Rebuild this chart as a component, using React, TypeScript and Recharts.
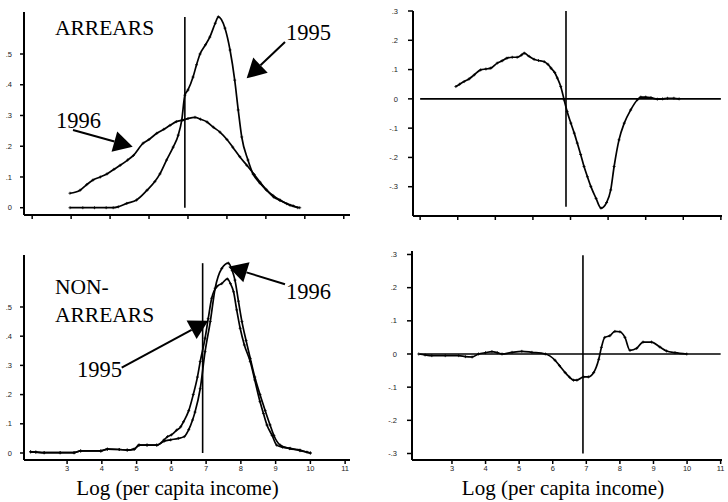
import React from 'react';
import { LineChart, Line, XAxis, YAxis, ReferenceLine } from 'recharts';

// log(per capita income) tick positions shared by every panel
const xTicks = [3, 4, 5, 6, 7, 8, 9, 10, 11];
const densTicks = [0, 0.1, 0.2, 0.3, 0.4, 0.5];
const diffTicks = [-0.3, -0.2, -0.1, 0, 0.1, 0.2, 0.3];

// ARREARS densities
const arrears1995: [number, number][] = [
  [3.97, 0], [4.3, 0], [4.6, 0], [4.9, 0], [5.08, 0], [5.21, 0.003], [5.43, 0.014], [5.68, 0.025],
  [5.95, 0.057], [6.15, 0.085], [6.28, 0.11], [6.45, 0.155], [6.62, 0.197], [6.75, 0.236], [6.84, 0.285],
  [6.92, 0.366], [7.0, 0.383], [7.13, 0.425], [7.22, 0.465], [7.31, 0.5], [7.45, 0.53], [7.56, 0.555],
  [7.7, 0.6], [7.78, 0.621], [7.95, 0.584], [8.08, 0.513], [8.2, 0.415], [8.29, 0.318], [8.38, 0.23],
  [8.54, 0.155], [8.67, 0.11], [8.85, 0.08], [9.02, 0.057], [9.2, 0.035], [9.36, 0.024], [9.62, 0.008], [9.87, 0],
];
const arrears1996: [number, number][] = [
  [3.97, 0.047], [4.23, 0.057], [4.4, 0.075], [4.56, 0.09], [4.75, 0.1], [4.92, 0.11], [5.1, 0.125],
  [5.26, 0.138], [5.45, 0.155], [5.6, 0.17], [5.85, 0.21], [6.0, 0.222], [6.2, 0.242], [6.38, 0.255],
  [6.54, 0.268], [6.7, 0.28], [6.87, 0.285], [7.0, 0.29], [7.18, 0.294], [7.32, 0.288], [7.49, 0.279],
  [7.65, 0.262], [7.82, 0.246], [8.0, 0.222], [8.15, 0.197], [8.33, 0.166], [8.51, 0.138], [8.7, 0.108],
  [8.85, 0.083], [9.0, 0.06], [9.18, 0.04], [9.36, 0.025], [9.54, 0.013], [9.7, 0.006], [9.82, 0],
];
const arrearsDiff: [number, number][] = [
  [3.95, 0.042], [4.05, 0.05], [4.17, 0.059], [4.3, 0.068], [4.44, 0.082], [4.61, 0.099], [4.75, 0.102],
  [4.88, 0.105], [5.05, 0.122], [5.18, 0.13], [5.31, 0.139], [5.45, 0.142], [5.58, 0.142], [5.7, 0.15],
  [5.77, 0.156], [5.9, 0.145], [6.03, 0.135], [6.15, 0.131], [6.3, 0.127], [6.4, 0.118], [6.48, 0.105],
  [6.58, 0.09], [6.65, 0.071], [6.74, 0.042], [6.83, -0.003], [6.91, -0.043], [7.01, -0.083], [7.1, -0.117],
  [7.18, -0.151], [7.27, -0.19], [7.36, -0.231], [7.45, -0.266], [7.54, -0.299], [7.68, -0.34], [7.81, -0.373],
  [7.96, -0.354], [8.07, -0.311], [8.16, -0.231], [8.29, -0.14], [8.43, -0.083], [8.6, -0.038], [8.78, -0.003],
  [8.87, 0.006], [9.0, 0.006], [9.14, 0.004], [9.31, -0.001], [9.45, 0], [9.58, 0.002], [9.75, 0.002], [9.89, 0],
];

// NON-ARREARS densities
const non1995: [number, number][] = [
  [1.95, 0.004], [2.1, 0.003], [2.34, 0.001], [2.8, 0.001], [3.2, 0.001], [3.39, 0.007], [3.97, 0.007],
  [4.16, 0.013], [4.5, 0.012], [4.73, 0.01], [4.93, 0.013], [5.07, 0.027], [5.3, 0.027], [5.58, 0.027],
  [5.79, 0.045], [5.89, 0.056], [6.0, 0.062], [6.15, 0.078], [6.27, 0.09], [6.35, 0.107], [6.5, 0.145],
  [6.63, 0.2], [6.75, 0.26], [6.83, 0.313], [6.97, 0.393], [7.06, 0.46], [7.16, 0.53], [7.31, 0.57],
  [7.45, 0.58], [7.61, 0.596], [7.7, 0.58], [7.79, 0.552], [7.88, 0.49], [7.98, 0.427], [8.1, 0.37],
  [8.27, 0.313], [8.4, 0.25], [8.55, 0.176], [8.65, 0.135], [8.75, 0.096], [8.9, 0.06], [9.03, 0.027],
  [9.2, 0.02], [9.42, 0.016], [9.7, 0.008], [10.0, 0],
];
const non1996: [number, number][] = [
  [1.95, 0.004], [2.1, 0.003], [2.34, 0.001], [2.8, 0.001], [3.2, 0.001], [3.39, 0.007], [3.97, 0.007],
  [4.16, 0.013], [4.5, 0.012], [4.73, 0.01], [4.93, 0.013], [5.07, 0.027], [5.3, 0.027], [5.58, 0.027],
  [5.79, 0.04], [5.98, 0.045], [6.2, 0.05], [6.37, 0.056], [6.5, 0.08], [6.61, 0.113], [6.68, 0.14],
  [6.83, 0.22], [6.97, 0.347], [7.12, 0.45], [7.26, 0.564], [7.45, 0.632], [7.64, 0.65], [7.75, 0.625],
  [7.83, 0.592], [7.93, 0.52], [8.03, 0.45], [8.15, 0.385], [8.27, 0.324], [8.4, 0.26], [8.55, 0.2],
  [8.7, 0.145], [8.84, 0.096], [8.95, 0.06], [9.13, 0.027], [9.4, 0.015], [9.7, 0.01], [9.9, 0.003], [10.0, 0],
];
const nonDiff: [number, number][] = [
  [2.01, 0], [2.2, -0.003], [2.4, -0.005], [2.8, -0.005], [3.2, -0.005], [3.4, -0.008], [3.6, -0.009],
  [3.79, 0], [4.0, 0.004], [4.19, 0.007], [4.35, 0.004], [4.49, 0], [4.79, 0.005], [5.08, 0.008],
  [5.38, 0.005], [5.78, 0], [6.07, -0.019], [6.2, -0.035], [6.37, -0.056], [6.5, -0.07], [6.62, -0.079],
  [6.72, -0.079], [6.92, -0.069], [7.06, -0.069], [7.22, -0.056], [7.37, -0.016], [7.45, 0.02], [7.55, 0.05],
  [7.7, 0.055], [7.85, 0.068], [8.0, 0.067], [8.15, 0.05], [8.3, 0.011], [8.5, 0.017], [8.69, 0.036],
  [8.94, 0.036], [9.19, 0.021], [9.39, 0.009], [9.64, 0.004], [9.99, 0],
];

const pts = (a: [number, number][]) => a.map(([x, y]) => ({ x, y }));

const fmt = (v: number) => {
  if (Math.abs(v) < 1e-9) return '0';
  return (v < 0 ? '-' : '') + '.' + Math.round(Math.abs(v) * 10);
};

const sans = '"Liberation Sans", Arial, sans-serif';
const serif = '"Liberation Serif", "Times New Roman", serif';
const tickFont = { fontFamily: sans, fontSize: 7.5, fill: '#222' };

const Plus = (p: any) => {
  const { cx, cy } = p;
  if (cx == null || cy == null) return <g />;
  return <path d={`M${cx - 1.5},${cy}h3M${cx},${cy - 1.5}v3`} stroke="#000" strokeWidth={0.8} />;
};

type PanelProps = {
  left: number; top: number; width: number; height: number;
  margin: { top: number; right: number; bottom: number; left: number };
  yWidth: number; yTickSize: number; yTickMargin: number;
  xDomain: [number, number]; yDomain: [number, number];
  yTicks: number[]; showX: boolean;
  series: [number, number][][];
  children?: React.ReactNode;
};

function Panel(p: PanelProps) {
  return (
    <div style={{ position: 'absolute', left: p.left, top: p.top }}>
      <LineChart width={p.width} height={p.height} margin={p.margin}>
        <XAxis
          dataKey="x" type="number" domain={p.xDomain} ticks={xTicks} allowDataOverflow
          height={20} tickSize={4} tickMargin={2}
          axisLine={{ stroke: '#000', strokeWidth: 2 }}
          tickLine={{ stroke: '#000', strokeWidth: 1.5 }}
          tick={tickFont} tickFormatter={(v: number) => (p.showX ? String(v) : '')}
        />
        <YAxis
          type="number" domain={p.yDomain} ticks={p.yTicks} allowDataOverflow
          width={p.yWidth} tickSize={p.yTickSize} tickMargin={p.yTickMargin}
          axisLine={{ stroke: '#000', strokeWidth: 2 }}
          tickLine={{ stroke: '#000', strokeWidth: 1.5 }}
          tick={tickFont} tickFormatter={fmt}
        />
        {p.children}
        {p.series.map((s, i) => (
          <Line
            key={i} data={pts(s)} dataKey="y" type="monotone" stroke="#000" strokeWidth={1.7}
            dot={Plus} activeDot={false} isAnimationActive={false}
          />
        ))}
      </LineChart>
    </div>
  );
}

function Arrow({ from, to }: { from: [number, number]; to: [number, number] }) {
  const dx = to[0] - from[0];
  const dy = to[1] - from[1];
  const len = Math.hypot(dx, dy);
  const ux = dx / len, uy = dy / len;
  const L = 19, W = 10.5;
  const bx = to[0] - ux * L, by = to[1] - uy * L;
  const poly = `${to[0]},${to[1]} ${bx - uy * W},${by + ux * W} ${bx + uy * W},${by - ux * W}`;
  return (
    <g>
      <line x1={from[0]} y1={from[1]} x2={bx} y2={by} stroke="#000" strokeWidth={2} />
      <polygon points={poly} fill="#000" />
    </g>
  );
}

export default function App() {
  const refStyle = { stroke: '#000', strokeWidth: 1.6 };
  return (
    <div style={{ position: 'absolute', left: 0, top: 0, width: 728, height: 502, background: '#fff', overflow: 'hidden' }}>
      <Panel
        left={0} top={0} width={360} height={250}
        margin={{ top: 12, right: 10, bottom: 15, left: 0 }}
        yWidth={24} yTickSize={4} yTickMargin={8}
        xDomain={[2.79, 11.16]} yDomain={[-0.0237, 0.6366]} yTicks={densTicks} showX={false}
        series={[arrears1995, arrears1996]}
      >
        <ReferenceLine segment={[{ x: 6.92, y: 0 }, { x: 6.92, y: 0.62 }]} {...refStyle} />
      </Panel>
      <Panel
        left={364} top={0} width={364} height={250}
        margin={{ top: 11, right: 6, bottom: 14, left: 0 }}
        yWidth={49} yTickSize={5} yTickMargin={10}
        xDomain={[2.81, 11.03]} yDomain={[-0.4, 0.3]} yTicks={diffTicks} showX={false}
        series={[arrearsDiff]}
      >
        <ReferenceLine segment={[{ x: 3, y: 0 }, { x: 11, y: 0 }]} {...refStyle} />
        <ReferenceLine segment={[{ x: 6.88, y: 0.3 }, { x: 6.88, y: -0.368 }]} {...refStyle} />
      </Panel>
      <Panel
        left={0} top={250} width={360} height={252}
        margin={{ top: 5, right: 10, bottom: 22, left: 0 }}
        yWidth={24} yTickSize={4} yTickMargin={8}
        xDomain={[1.76, 11.14]} yDomain={[-0.024, 0.678]} yTicks={densTicks} showX
        series={[non1995, non1996]}
      >
        <ReferenceLine segment={[{ x: 6.9, y: 0 }, { x: 6.9, y: 0.65 }]} {...refStyle} />
      </Panel>
      <Panel
        left={364} top={250} width={364} height={252}
        margin={{ top: 1, right: 6, bottom: 22, left: 0 }}
        yWidth={48} yTickSize={5} yTickMargin={10}
        xDomain={[1.81, 11.04]} yDomain={[-0.3196, 0.3105]} yTicks={diffTicks} showX
        series={[nonDiff]}
      >
        <ReferenceLine segment={[{ x: 2.05, y: 0 }, { x: 11, y: 0 }]} {...refStyle} />
        <ReferenceLine segment={[{ x: 6.9, y: 0.298 }, { x: 6.9, y: -0.3 }]} {...refStyle} />
      </Panel>

      <svg width={728} height={502} style={{ position: 'absolute', left: 0, top: 0, pointerEvents: 'none' }}>
        <g style={{ fontFamily: serif }} fill="#000">
          <text x={55} y={35} fontSize={21.5}>ARREARS</text>
          <text x={286} y={40} fontSize={22.5}>1995</text>
          <text x={56} y={127.5} fontSize={22.5}>1996</text>
          <text x={55} y={294} fontSize={21.5}>NON-</text>
          <text x={55} y={321.5} fontSize={21.5}>ARREARS</text>
          <text x={77} y={377} fontSize={22.5}>1995</text>
          <text x={286} y={299} fontSize={22.5}>1996</text>
          <text x={177.5} y={495} fontSize={21} textAnchor="middle">Log (per capita income)</text>
          <text x={563} y={495} fontSize={21} textAnchor="middle">Log (per capita income)</text>
        </g>
        <Arrow from={[285, 42]} to={[246.7, 78.3]} />
        <Arrow from={[73, 130]} to={[132.7, 146.7]} />
        <Arrow from={[121.7, 367.7]} to={[208.3, 320.7]} />
        <Arrow from={[285, 284.3]} to={[228.3, 266.7]} />
      </svg>
    </div>
  );
}
